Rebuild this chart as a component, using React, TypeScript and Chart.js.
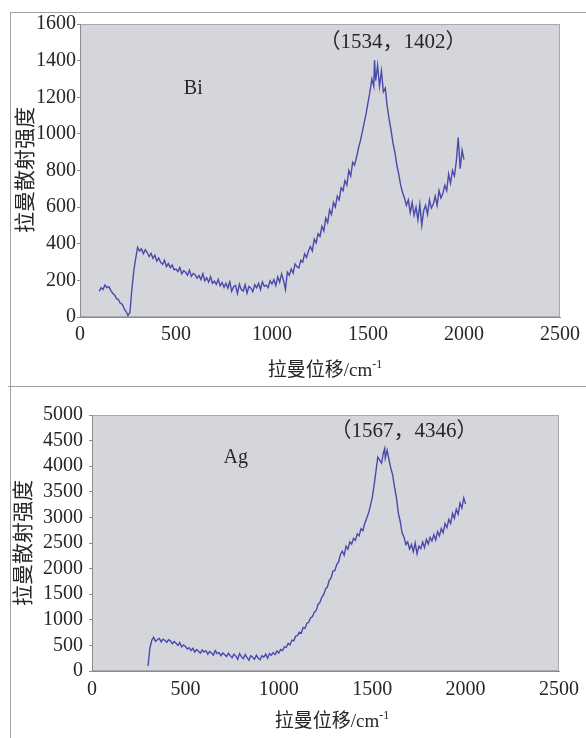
import React, { useEffect, useRef } from "react";
import { Chart, registerables } from "chart.js";

Chart.register(...registerables);

// ---------- Data ----------
const biShift = [
  100, 110, 120, 130, 140, 150, 160, 170, 180, 190,
  200, 210, 220, 230, 240, 250, 260, 270, 280, 290,
  300, 310, 320, 330, 340, 350, 360, 370, 380, 390,
  400, 410, 420, 430, 440, 450, 460, 470, 480, 490,
  500, 510, 520, 530, 540, 550, 560, 570, 580, 590,
  600, 610, 620, 630, 640, 650, 660, 670, 680, 690,
  700, 710, 720, 730, 740, 750, 760, 770, 780, 790,
  800, 810, 820, 830, 840, 850, 860, 870, 880, 890,
  900, 910, 920, 930, 940, 950, 960, 970, 980, 990,
  1000, 1010, 1020, 1030, 1040, 1050, 1060, 1070, 1080, 1090,
  1100, 1110, 1120, 1130, 1140, 1150, 1160, 1170, 1180, 1190,
  1200, 1210, 1220, 1230, 1240, 1250, 1260, 1270, 1280, 1290,
  1300, 1310, 1320, 1330, 1340, 1350, 1360, 1370, 1380, 1390,
  1400, 1410, 1420, 1430, 1440, 1450, 1460, 1470, 1480, 1490,
  1500, 1510, 1520, 1530, 1534,
  1540, 1550, 1560, 1570, 1580, 1590,
  1600, 1610, 1620, 1630, 1640, 1650, 1660, 1670, 1680, 1690,
  1700, 1710, 1720, 1730, 1740, 1750, 1760, 1770, 1780, 1790,
  1800, 1810, 1820, 1830, 1840, 1850, 1860, 1870, 1880, 1890,
  1900, 1910, 1920, 1930, 1940, 1950, 1960, 1970, 1980, 1990,
  2000,
];
const biIntensity = [
  140, 160, 150, 175, 160, 165, 145, 130, 120, 100,
  95, 75, 70, 45, 30, 8, 25, 150, 250, 320,
  380, 360, 372, 345, 368, 352, 330, 348, 320, 338,
  305, 322, 298, 288, 310, 275, 292, 270, 284, 258,
  262, 248, 271, 236, 252, 244, 228, 256, 222, 238,
  230, 212, 226, 204, 236, 198, 214, 190, 220, 184,
  196, 178, 205, 170, 188, 162, 184, 158, 192, 140,
  165, 172, 128, 180, 150, 142, 176, 130, 168, 158,
  138, 176, 160, 184, 150, 192, 168, 174, 160, 198,
  180, 205, 172, 220, 190, 235, 200, 150, 245, 228,
  262, 240, 290, 275, 268, 310, 300, 345, 325, 360,
  385, 360, 425, 405, 455, 440, 495, 470, 540, 515,
  585, 560, 625, 600, 660, 640, 705, 690, 745, 720,
  800, 770, 845, 830, 870, 920, 960, 1010, 1060, 1110,
  1170, 1230, 1300, 1260, 1402,
  1290, 1375, 1260, 1345, 1230, 1250,
  1150, 1080, 1020, 950, 900, 830, 780, 720, 680, 650,
  610, 640, 570, 625, 555, 600, 530, 615, 500, 580,
  610, 560, 640, 595, 615, 660, 610, 690, 650, 675,
  720, 690, 780, 730, 800, 770, 850, 980, 810, 910,
  860,
];

const agShift = [
  300, 310, 320, 330, 340, 350, 360, 370, 380, 390,
  400, 410, 420, 430, 440, 450, 460, 470, 480, 490,
  500, 510, 520, 530, 540, 550, 560, 570, 580, 590,
  600, 610, 620, 630, 640, 650, 660, 670, 680, 690,
  700, 710, 720, 730, 740, 750, 760, 770, 780, 790,
  800, 810, 820, 830, 840, 850, 860, 870, 880, 890,
  900, 910, 920, 930, 940, 950, 960, 970, 980, 990,
  1000, 1010, 1020, 1030, 1040, 1050, 1060, 1070, 1080, 1090,
  1100, 1110, 1120, 1130, 1140, 1150, 1160, 1170, 1180, 1190,
  1200, 1210, 1220, 1230, 1240, 1250, 1260, 1270, 1280, 1290,
  1300, 1310, 1320, 1330, 1340, 1350, 1360, 1370, 1380, 1390,
  1400, 1410, 1420, 1430, 1440, 1450, 1460, 1470, 1480, 1490,
  1500, 1510, 1520, 1530, 1540, 1550, 1560, 1567,
  1570, 1580, 1590,
  1600, 1610, 1620, 1630, 1640, 1650, 1660, 1670, 1680, 1690,
  1700, 1710, 1720, 1730, 1740, 1750, 1760, 1770, 1780, 1790,
  1800, 1810, 1820, 1830, 1840, 1850, 1860, 1870, 1880, 1890,
  1900, 1910, 1920, 1930, 1940, 1950, 1960, 1970, 1980, 1990,
  2000,
];
const agIntensity = [
  100, 450, 600, 660, 580, 610, 640, 570, 620, 600,
  560, 610, 590, 530, 575, 540, 500, 555, 470, 510,
  480, 430, 455, 400, 445, 370, 420, 385, 350, 410,
  370, 395, 330, 380, 350, 310, 400, 340, 360, 300,
  350, 320, 280, 345, 300, 260, 330, 290, 230, 340,
  280, 240, 320, 260, 210, 300, 270, 230, 310, 250,
  220, 300, 270, 330, 250, 340, 310, 360, 320, 390,
  350, 420, 400, 470, 460, 540, 510, 600, 590, 680,
  690, 760, 740, 850, 830, 930, 950, 1040, 1060, 1150,
  1180, 1300, 1340, 1440, 1490, 1600, 1640, 1770, 1820, 1950,
  1960, 2080, 2130, 2280, 2340, 2260, 2440, 2380, 2520, 2480,
  2590, 2550, 2680, 2640, 2780, 2740, 2880, 2980, 3080, 3220,
  3380, 3620, 3900, 4180, 4120, 4060, 4260, 4346,
  4160, 4310, 4120,
  3960, 3820, 3580, 3380, 3080, 2920, 2700, 2620, 2470, 2520,
  2380, 2470, 2330, 2500, 2290, 2440, 2390, 2520, 2410, 2570,
  2480, 2610, 2540, 2660, 2560, 2720, 2640, 2780, 2700, 2880,
  2800, 2960, 2880, 3080, 2980, 3160, 3060, 3280, 3180, 3380,
  3260,
];

const xTicks = [0, 500, 1000, 1500, 2000, 2500];
const biYMax = 1600;
const biYStep = 200;
const agYMax = 5000;
const agYStep = 500;

const yTitle = "拉曼散射强度";
const xTitleMain = "拉曼位移/cm";
const xTitleSup = "-1";
const biLabel = "Bi";
const biPeakLabel = "（1534，1402）";
const agLabel = "Ag";
const agPeakLabel = "（1567，4346）";

// ---------- Styling ----------
const SERIF = '"Liberation Serif", "Times New Roman", "Noto Sans CJK SC", serif';
const TEXT = "#262626";
const LINE = "rgb(74, 74, 172)";

type Note = { text: string; x: number; y: number; size: number };

type SpecProps = {
  xs: number[];
  ys: number[];
  yMax: number;
  yStep: number;
  notes: Note[];
  width: number;
  height: number;
  padTop: number;
  padRight: number;
  yAxisWidth: number;
  xAxisHeight: number;
  yTickPad: number;
  xTickPad: number;
};

function SpectrumChart(p: SpecProps) {
  const ref = useRef<HTMLCanvasElement | null>(null);

  useEffect(() => {
    if (!ref.current) return;
    const points = p.xs.map((x, i) => ({ x, y: p.ys[i] }));

    const bgPlugin = {
      id: "plotBg",
      beforeDraw(chart: any) {
        const { ctx, chartArea: a } = chart;
        ctx.save();
        ctx.fillStyle = "#d5d6db";
        ctx.fillRect(a.left, a.top, a.right - a.left, a.bottom - a.top);
        ctx.strokeStyle = "#a9a9ad";
        ctx.lineWidth = 1;
        ctx.strokeRect(a.left + 0.5, a.top + 0.5, a.right - a.left - 1, a.bottom - a.top - 1);
        ctx.restore();
      },
    };

    const notePlugin = {
      id: "notes",
      afterDatasetsDraw(chart: any) {
        const { ctx, scales } = chart;
        ctx.save();
        ctx.fillStyle = TEXT;
        ctx.textAlign = "center";
        ctx.textBaseline = "middle";
        p.notes.forEach((n) => {
          ctx.font = `${n.size}px ${SERIF}`;
          ctx.fillText(n.text, scales.x.getPixelForValue(n.x), scales.y.getPixelForValue(n.y));
        });
        ctx.restore();
      },
    };

    const chart = new Chart(ref.current, {
      type: "line",
      data: {
        datasets: [
          {
            data: points,
            borderColor: LINE,
            borderWidth: 1.4,
            pointRadius: 0,
            tension: 0,
            fill: false,
          },
        ],
      },
      options: {
        animation: false,
        responsive: false,
        maintainAspectRatio: false,
        layout: { padding: { top: p.padTop, right: p.padRight, left: 0, bottom: 0 } },
        plugins: { legend: { display: false }, tooltip: { enabled: false } },
        scales: {
          x: {
            type: "linear",
            min: 0,
            max: 2500,
            afterBuildTicks: (s: any) => {
              s.ticks = xTicks.map((v) => ({ value: v }));
            },
            afterFit: (s: any) => {
              s.height = p.xAxisHeight;
            },
            ticks: {
              font: { family: SERIF, size: 20 },
              color: TEXT,
              padding: p.xTickPad,
              maxRotation: 0,
              autoSkip: false,
              callback: (v: any) => String(v),
            },
            grid: { display: true, drawOnChartArea: false, drawTicks: false, color: "#8c8c8c" },
            border: { display: true, color: "#8c8c8c" },
          },
          y: {
            type: "linear",
            min: 0,
            max: p.yMax,
            afterFit: (s: any) => {
              s.width = p.yAxisWidth;
            },
            ticks: {
              stepSize: p.yStep,
              font: { family: SERIF, size: 20 },
              color: TEXT,
              padding: p.yTickPad,
              autoSkip: false,
              callback: (v: any) => String(v),
            },
            grid: { display: true, drawOnChartArea: false, drawTicks: true, tickLength: 3, color: "#8c8c8c" },
            border: { display: true, color: "#8c8c8c" },
          },
        },
      },
      plugins: [bgPlugin, notePlugin],
    } as any);

    return () => chart.destroy();
  }, []);

  return <canvas ref={ref} width={p.width} height={p.height} style={{ display: "block", width: p.width, height: p.height }} />;
}

function YTitle({ cx, cy }: { cx: number; cy: number }) {
  const w = 200;
  const h = 26;
  return (
    <div
      style={{
        position: "absolute",
        left: cx - w / 2,
        top: cy - h / 2,
        width: w,
        height: h,
        lineHeight: `${h}px`,
        textAlign: "center",
        transform: "rotate(-90deg)",
        fontFamily: SERIF,
        fontSize: 21,
        color: TEXT,
        whiteSpace: "nowrap",
      }}
    >
      {yTitle}
    </div>
  );
}

function XTitle({ cx, cy }: { cx: number; cy: number }) {
  const w = 240;
  const h = 26;
  return (
    <div
      style={{
        position: "absolute",
        left: cx - w / 2,
        top: cy - h / 2,
        width: w,
        height: h,
        lineHeight: `${h}px`,
        textAlign: "center",
        fontFamily: SERIF,
        fontSize: 19,
        color: TEXT,
        whiteSpace: "nowrap",
      }}
    >
      {xTitleMain}
      <sup style={{ fontSize: 12, verticalAlign: "top", lineHeight: "14px" }}>{xTitleSup}</sup>
    </div>
  );
}

export default function App() {
  const lineColor = "#a0a0a0";
  return (
    <div style={{ position: "absolute", left: 0, top: 0, width: 586, height: 738, background: "#fff", overflow: "hidden" }}>
      <div style={{ position: "absolute", left: 0, top: 0 }}>
        <SpectrumChart
          xs={biShift}
          ys={biIntensity}
          yMax={biYMax}
          yStep={biYStep}
          notes={[
            { text: biLabel, x: 590, y: 1245, size: 20 },
            { text: biPeakLabel, x: 1630, y: 1500, size: 21 },
          ]}
          width={586}
          height={387}
          padTop={24}
          padRight={22}
          yAxisWidth={80}
          xAxisHeight={70}
          yTickPad={1}
          xTickPad={6}
        />
      </div>
      <div style={{ position: "absolute", left: 0, top: 387 }}>
        <SpectrumChart
          xs={agShift}
          ys={agIntensity}
          yMax={agYMax}
          yStep={agYStep}
          notes={[
            { text: agLabel, x: 770, y: 4160, size: 20 },
            { text: agPeakLabel, x: 1670, y: 4670, size: 21 },
          ]}
          width={586}
          height={351}
          padTop={28}
          padRight={24}
          yAxisWidth={92}
          xAxisHeight={67}
          yTickPad={6}
          xTickPad={7}
        />
      </div>
      <YTitle cx={25} cy={170} />
      <XTitle cx={325} cy={370} />
      <YTitle cx={23} cy={543} />
      <XTitle cx={332} cy={721} />
      <div style={{ position: "absolute", left: 10, top: 12, width: 576, height: 1, background: lineColor }} />
      <div style={{ position: "absolute", left: 10, top: 12, width: 1, height: 726, background: lineColor }} />
      <div style={{ position: "absolute", left: 8, top: 386, width: 578, height: 1, background: lineColor }} />
    </div>
  );
}
